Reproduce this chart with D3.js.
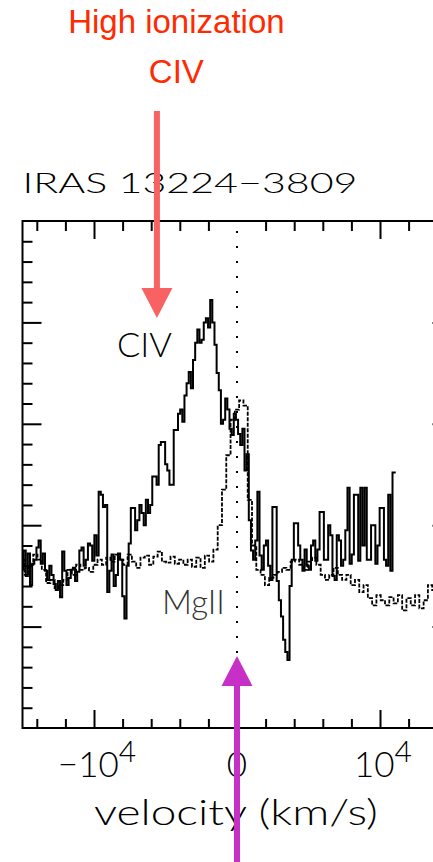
<!DOCTYPE html>
<html>
<head>
<meta charset="utf-8">
<script src="https://cdn.jsdelivr.net/npm/d3@7"></script>
<style>
  body { margin: 0; background: #fff; }
  text { font-family: Lato, Roboto, "DejaVu Sans", sans-serif; font-weight: 300; }
</style>
</head>
<body>
<script>
// CIV bins, km/s (150 km/s steps)
const civVelocity = [-15000,-14850,-14700,-14550,-14400,-14250,-14100,-13950,-13800,-13650,
  -13500,-13350,-13200,-13050,-12900,-12750,-12600,-12450,-12300,-12150,
  -12000,-11850,-11700,-11550,-11400,-11250,-11100,-10950,-10800,-10650,
  -10500,-10350,-10200,-10050,-9900,-9750,-9600,-9450,-9300,-9150,
  -9000,-8850,-8700,-8550,-8400,-8250,-8100,-7950,-7800,-7650,
  -7500,-7350,-7200,-7050,-6900,-6750,-6600,-6450,-6300,-6150,
  -6000,-5850,-5700,-5550,-5400,-5250,-5100,-4950,-4800,-4650,
  -4500,-4350,-4200,-4050,-3900,-3750,-3600,-3450,-3300,-3150,
  -3000,-2850,-2700,-2550,-2400,-2250,-2100,-1950,-1800,-1650,
  -1500,-1350,-1200,-1050,-900,-750,-600,-450,-300,-150,
  0,150,300,450,600,750,900,1050,1200,1350,
  1500,1650,1800,1950,2100,2250,2400,2550,2700,2850,
  3000,3150,3300,3450,3600,3750,3900,4050,4200,4350,
  4500,4650,4800,4950,5100,5250,5400,5550,5700,5850,
  6000,6150,6300,6450,6600,6750,6900,7050,7200,7350,
  7500,7650,7800,7950,8100,8250,8400,8550,8700,8850,
  9000,9150,9300,9450,9600,9750,9900,10050,10200,10350,
  10500,10650,10800,10950,11100]

const civFlux = [1.56,1.75,1.50,1.72,1.41,1.62,1.66,1.78,1.85,1.62,
  1.72,1.55,1.46,1.60,1.51,1.42,1.36,1.45,1.29,1.74,
  1.55,1.41,1.48,1.56,1.58,1.45,1.54,1.75,1.78,1.60,
  1.66,1.82,1.80,1.65,1.90,1.70,2.33,2.30,2.18,2.20,
  1.34,1.55,1.71,1.40,1.51,1.72,1.66,1.30,1.08,1.60,
  1.82,2.17,2.17,1.95,2.05,2.20,2.12,2.00,2.25,2.12,
  2.20,2.48,2.48,2.40,2.79,2.82,2.82,2.60,2.54,2.40,
  2.40,2.94,2.94,3.10,3.14,3.02,3.28,3.40,3.51,3.35,
  3.63,3.80,3.93,3.80,3.83,4.00,4.04,3.95,4.22,4.00,
  3.78,3.50,3.33,3.00,3.04,3.25,3.14,2.95,2.89,3.10,
  3.04,2.90,2.79,2.95,2.54,2.70,2.05,1.75,1.66,1.85,
  2.33,1.70,1.56,1.80,1.85,1.60,1.46,2.18,2.18,1.45,
  1.26,1.10,0.87,0.75,0.67,1.40,1.66,2.02,2.02,1.80,
  1.66,1.55,1.76,1.60,1.56,1.80,1.85,1.65,1.76,2.13,
  2.13,1.66,1.66,2.00,1.90,1.50,1.46,1.90,1.85,1.60,
  1.66,1.95,2.37,1.62,1.71,2.30,2.30,1.65,2.37,1.80,
  2.37,1.66,1.66,2.00,2.00,1.62,1.80,2.17,2.17,1.66,
  1.60,2.30,1.55,2.52,2.52]

// MgII bins, km/s (300 km/s steps)
const mgiiVelocity = [-15000,-14700,-14400,-14100,-13800,-13500,-13200,-12900,-12600,-12300,
  -12000,-11700,-11400,-11100,-10800,-10500,-10200,-9900,-9600,-9300,
  -9000,-8700,-8400,-8100,-7800,-7500,-7200,-6900,-6600,-6300,
  -6000,-5700,-5400,-5100,-4800,-4500,-4200,-3900,-3600,-3300,
  -3000,-2700,-2400,-2100,-1800,-1500,-1200,-900,-600,-300,
  0,300,600,900,1200,1500,1800,2100,2400,2700,
  3000,3300,3600,3900,4200,4500,4800,5100,5400,5700,
  6000,6300,6600,6900,7200,7500,7800,8100,8400,8700,
  9000,9300,9600,9900,10200,10500,10800,11100,11400,11700,
  12000,12300,12600,12900,13200,13500,13800,14100,14400,14700]

const mgiiFlux = [1.66,1.51,1.61,1.71,1.66,1.56,1.43,1.46,1.38,1.41,
  1.46,1.56,1.51,1.61,1.56,1.58,1.54,1.61,1.66,1.61,
  1.68,1.64,1.71,1.66,1.61,1.71,1.64,1.58,1.68,1.70,
  1.61,1.69,1.74,1.64,1.63,1.69,1.62,1.66,1.61,1.66,
  1.59,1.68,1.58,1.70,1.64,1.76,2.00,2.35,2.69,3.04,
  3.14,3.23,3.18,2.25,1.80,1.56,1.51,1.41,1.48,1.51,
  1.54,1.58,1.56,1.64,1.66,1.61,1.56,1.64,1.68,1.61,
  1.51,1.46,1.51,1.58,1.51,1.46,1.51,1.41,1.46,1.34,
  1.41,1.28,1.21,1.31,1.26,1.21,1.29,1.23,1.31,1.16,
  1.28,1.21,1.31,1.18,1.26,1.41,1.36,1.30,1.25,1.35]

const xMinorTicks = [-14000,-12000,-8000,-6000,-4000,-2000,2000,4000,6000,8000,12000,14000]
const xMajorTicks = [-10000,10000]
const yMinorTicks = [0.2,0.4,0.6,0.8,1.2,1.4,1.6,1.8,2.2,2.4,2.6,2.8,3.2,3.4,3.6,3.8,4.2,4.4,4.6,4.8]
const yMajorTicks = [1,2,3,4]

const width = 433, height = 862
const plotLeft = 22.5, plotRight = 451.5, plotTop = 221, plotBottom = 728

let svg = d3.select('body').append('svg')
  .attr('width', width)
  .attr('height', height)

const x = d3.scaleLinear().domain([-15000, 15000]).range([plotLeft, plotRight])
const y = d3.scaleLinear().domain([0, 5]).range([plotBottom, plotTop])

svg.append('clipPath').attr('id', 'plot')
  .append('rect')
  .attr('x', plotLeft).attr('y', plotTop)
  .attr('width', plotRight - plotLeft).attr('height', plotBottom - plotTop)

// ticks (inward, PGPLOT style)
let tickAxis = (axis, tx, ty) => {
  let g = svg.append('g').attr('transform', `translate(${tx},${ty})`).call(axis)
  g.select('.domain').remove()
  g.selectAll('text').remove()
  g.selectAll('line').attr('stroke', '#000').attr('stroke-width', 2)
}
tickAxis(d3.axisBottom(x).tickValues(xMinorTicks).tickSize(-9), 0, plotBottom)
tickAxis(d3.axisBottom(x).tickValues(xMajorTicks.concat([0])).tickSize(-18), 0, plotBottom)
tickAxis(d3.axisTop(x).tickValues(xMinorTicks).tickSize(-10), 0, plotTop)
tickAxis(d3.axisTop(x).tickValues(xMajorTicks).tickSize(-18), 0, plotTop)
tickAxis(d3.axisLeft(y).tickValues(yMinorTicks).tickSize(-10), plotLeft, 0)
tickAxis(d3.axisLeft(y).tickValues(yMajorTicks).tickSize(-19), plotLeft, 0)
tickAxis(d3.axisRight(y).tickValues(yMinorTicks).tickSize(-10), plotRight, 0)
tickAxis(d3.axisRight(y).tickValues(yMajorTicks).tickSize(-19), plotRight, 0)

// zero velocity marker
svg.append('line')
  .attr('x1', x(0)).attr('x2', x(0))
  .attr('y1', plotTop).attr('y2', plotBottom)
  .attr('stroke', '#000').attr('stroke-width', 2)
  .attr('stroke-dasharray', '2,13').attr('stroke-dashoffset', -10)

const line = d3.line()
  .x(d => x(d[0]))
  .y(d => y(d[1]))
  .curve(d3.curveStep)

let plot = svg.append('g').attr('clip-path', 'url(#plot)')

plot.append('path')
  .datum(mgiiFlux.map((f, i) => [mgiiVelocity[i], f]))
  .attr('d', line)
  .attr('fill', 'none')
  .attr('stroke', '#000')
  .attr('stroke-width', 1.8)
  .attr('stroke-dasharray', '4,1.5')

plot.append('path')
  .datum(civFlux.map((f, i) => [civVelocity[i], f]))
  .attr('d', line)
  .attr('fill', 'none')
  .attr('stroke', '#000')
  .attr('stroke-width', 2)

// frame
svg.append('rect')
  .attr('x', plotLeft).attr('y', plotTop)
  .attr('width', plotRight - plotLeft).attr('height', plotBottom - plotTop)
  .attr('fill', 'none').attr('stroke', '#000').attr('stroke-width', 2)

// labels
svg.append('text')
  .attr('x', plotLeft).attr('y', 193)
  .attr('font-size', 27).attr('textLength', 335).attr('lengthAdjust', 'spacingAndGlyphs')
  .text('IRAS 13224\u22123809')

svg.append('text')
  .attr('x', x(-6470)).attr('y', 357)
  .attr('text-anchor', 'middle').attr('font-size', 33)
  .attr('textLength', 55).attr('lengthAdjust', 'spacingAndGlyphs')
  .text('CIV')

svg.append('text')
  .attr('x', x(-3050)).attr('y', 614)
  .attr('text-anchor', 'middle').attr('font-size', 33)
  .attr('textLength', 63).attr('lengthAdjust', 'spacingAndGlyphs')
  .attr('fill', '#333')
  .text('MgII')

let tickLabel = (v, base) => {
  let t = svg.append('text')
    .attr('x', x(v) + 3).attr('y', 777)
    .attr('text-anchor', 'middle').attr('font-size', 35)
    .text(base)
  t.append('tspan').attr('dy', -15).attr('font-size', 30).text('4')
}
tickLabel(-10000, '\u221210')
tickLabel(10000, '10')
svg.append('text')
  .attr('x', x(0)).attr('y', 777)
  .attr('text-anchor', 'middle').attr('font-size', 35)
  .text('0')

svg.append('text')
  .attr('x', 94).attr('y', 825)
  .attr('font-size', 35).attr('textLength', 284).attr('lengthAdjust', 'spacingAndGlyphs')
  .text('velocity (km/s)')

// annotations
let arrow = (xv, y0, y1, color) => {
  let dir = y1 > y0 ? 1 : -1
  svg.append('line')
    .attr('x1', x(xv)).attr('x2', x(xv))
    .attr('y1', y0).attr('y2', y1 - dir * 30)
    .attr('stroke', color).attr('stroke-width', 6)
  svg.append('path')
    .attr('d', `M${x(xv) - 15.5},${y1 - dir * 30}L${x(xv) + 15.5},${y1 - dir * 30}L${x(xv)},${y1}Z`)
    .attr('fill', color)
}
arrow(-5600, 111, 318, '#f86262')
arrow(0, 862, 656, '#c630c6')

svg.append('text')
  .attr('x', x(-4240)).attr('y', 33)
  .attr('text-anchor', 'middle').attr('font-size', 33)
  .attr('fill', '#ff2a00')
  .style('font-family', '"Liberation Sans", Arial, sans-serif').style('font-weight', 400)
  .text('High ionization')

svg.append('text')
  .attr('x', x(-4240)).attr('y', 83)
  .attr('text-anchor', 'middle').attr('font-size', 33)
  .attr('fill', '#ff2a00')
  .style('font-family', '"Liberation Sans", Arial, sans-serif').style('font-weight', 400)
  .text('CIV')
</script>
</body>
</html>
